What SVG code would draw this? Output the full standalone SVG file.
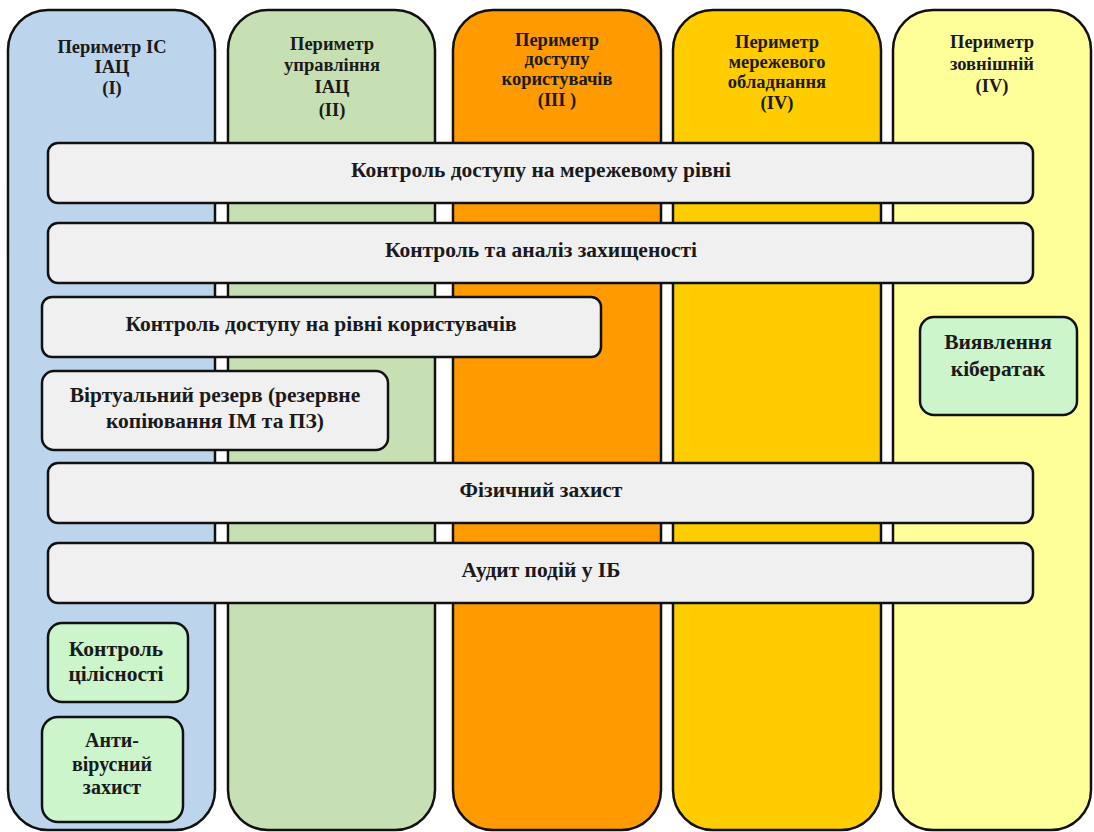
<svg xmlns="http://www.w3.org/2000/svg" width="1094" height="832" viewBox="0 0 1094 832">
<style>
.col{stroke:#111;stroke-width:2.5}
.bar{fill:#f0f0f0;stroke:#111;stroke-width:2.5}
.gbox{fill:#ccf5cc;stroke:#111;stroke-width:2.5}
text{font-family:"Liberation Serif","Times New Roman",serif;font-weight:bold;fill:#1a1a1a;text-anchor:middle}
.h{font-size:18.5px}
.b{font-size:21.5px}
.s{font-size:21.5px}
.a{font-size:20px}
</style>
<rect width="1094" height="832" fill="#ffffff"/>
<g id="col1"><rect class="col" x="8" y="10" width="207" height="820" rx="40" fill="#bdd5ec"/>
<text class="h" x="112" y="53">Периметр ІС</text><text class="h" x="112" y="73">ІАЦ</text><text class="h" x="112" y="94">(I)</text></g>
<g id="col2"><rect class="col" x="228" y="10" width="207" height="820" rx="40" fill="#c6e0b4"/>
<text class="h" x="332" y="50">Периметр</text><text class="h" x="332" y="71">управління</text><text class="h" x="332" y="93">ІАЦ</text><text class="h" x="332" y="116">(II)</text></g>
<g id="col3"><rect class="col" x="453" y="10" width="208" height="820" rx="40" fill="#ff9a00"/>
<text class="h" x="557" y="46">Периметр</text><text class="h" x="557" y="65">доступу</text><text class="h" x="557" y="85">користувачів</text><text class="h" x="557" y="106">(III )</text></g>
<g id="col4"><rect class="col" x="673" y="10" width="208" height="820" rx="40" fill="#ffcc00"/>
<text class="h" x="777" y="48">Периметр</text><text class="h" x="777" y="68">мережевого</text><text class="h" x="777" y="88">обладнання</text><text class="h" x="777" y="109">(IV)</text></g>
<g id="col5"><rect class="col" x="893" y="10" width="198" height="820" rx="40" fill="#ffff99"/>
<text class="h" x="992" y="48">Периметр</text><text class="h" x="992" y="70">зовнішній</text><text class="h" x="992" y="92">(IV)</text></g>
<g id="bar1"><rect class="bar" x="48" y="143" width="985" height="60" rx="10"/><text class="b" x="541" y="177">Контроль доступу на мережевому рівні</text></g>
<g id="bar2"><rect class="bar" x="48" y="223" width="985" height="60" rx="10"/><text class="b" x="541" y="257">Контроль та аналіз захищеності</text></g>
<g id="bar3"><rect class="bar" x="42" y="297" width="559" height="60" rx="10"/><text class="b" x="321" y="331">Контроль доступу на рівні користувачів</text></g>
<g id="bar4"><rect class="bar" x="42" y="371" width="346" height="79" rx="12"/><text class="b" x="215" y="402">Віртуальний резерв (резервне</text><text class="b" x="215" y="428">копіювання ІМ та ПЗ)</text></g>
<g id="bar5"><rect class="bar" x="48" y="463" width="985" height="60" rx="10"/><text class="b" x="541" y="497">Фізичний захист</text></g>
<g id="bar6"><rect class="bar" x="48" y="543" width="985" height="60" rx="10"/><text class="b" x="541" y="577">Аудит подій у ІБ</text></g>
<g id="integrity"><rect class="gbox" x="48" y="623" width="140" height="79" rx="14"/><text class="s" x="116" y="656">Контроль</text><text class="s" x="116" y="681">цілісності</text></g>
<g id="antivirus"><rect class="gbox" x="42" y="717" width="141" height="105" rx="16"/><text class="a" x="112" y="747">Анти-</text><text class="a" x="112" y="771">вірусний</text><text class="a" x="112" y="794">захист</text></g>
<g id="cyber"><rect class="gbox" x="920" y="317" width="157" height="98" rx="14"/><text class="s" x="998" y="349">Виявлення</text><text class="s" x="998" y="376">кібератак</text></g>
<g id="connectors"></g>
</svg>
